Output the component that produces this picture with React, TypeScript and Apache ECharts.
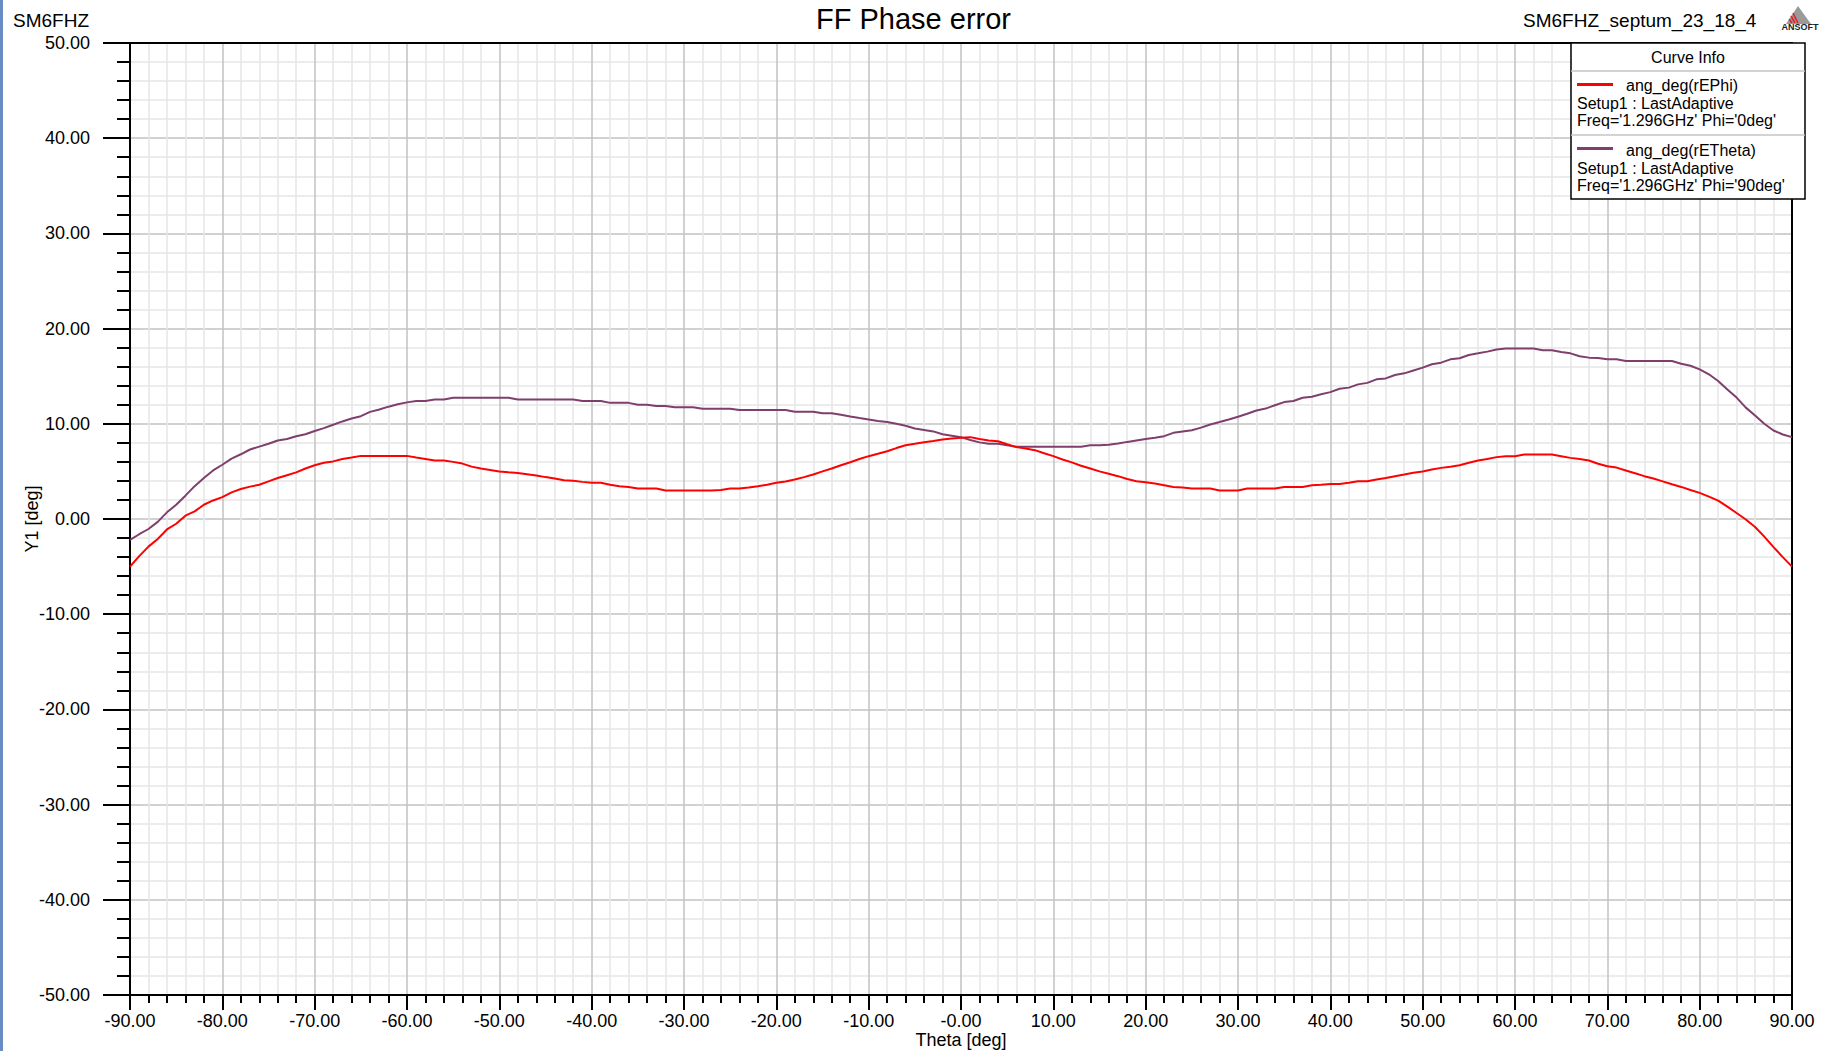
import React, { useEffect, useRef } from "react";
import * as echarts from "echarts";

const THETA = [
  -90, -89, -88, -87, -86, -85, -84, -83, -82, -81,
  -80, -79, -78, -77, -76, -75, -74, -73, -72, -71,
  -70, -69, -68, -67, -66, -65, -64, -63, -62, -61,
  -60, -59, -58, -57, -56, -55, -54, -53, -52, -51,
  -50, -49, -48, -47, -46, -45, -44, -43, -42, -41,
  -40, -39, -38, -37, -36, -35, -34, -33, -32, -31,
  -30, -29, -28, -27, -26, -25, -24, -23, -22, -21,
  -20, -19, -18, -17, -16, -15, -14, -13, -12, -11,
  -10, -9, -8, -7, -6, -5, -4, -3, -2, -1,
  0, 1, 2, 3, 4, 5, 6, 7, 8, 9,
  10, 11, 12, 13, 14, 15, 16, 17, 18, 19,
  20, 21, 22, 23, 24, 25, 26, 27, 28, 29,
  30, 31, 32, 33, 34, 35, 36, 37, 38, 39,
  40, 41, 42, 43, 44, 45, 46, 47, 48, 49,
  50, 51, 52, 53, 54, 55, 56, 57, 58, 59,
  60, 61, 62, 63, 64, 65, 66, 67, 68, 69,
  70, 71, 72, 73, 74, 75, 76, 77, 78, 79,
  80, 81, 82, 83, 84, 85, 86, 87, 88, 89,
  90,
];

// ang_deg(rEPhi), Phi = 0deg
const E_PHI = [
  -5.0, -3.9, -2.9, -2.1, -1.1, -0.5, 0.35, 0.8, 1.5, 1.95,
  2.3, 2.8, 3.15, 3.4, 3.6, 3.95, 4.3, 4.6, 4.9, 5.3,
  5.65, 5.9, 6.05, 6.3, 6.45, 6.63, 6.63, 6.63, 6.63, 6.63,
  6.63, 6.45, 6.3, 6.15, 6.14, 6.0, 5.82, 5.5, 5.3, 5.15,
  5.0, 4.9, 4.84, 4.7, 4.56, 4.4, 4.25, 4.07, 4.03, 3.9,
  3.8, 3.8, 3.6, 3.44, 3.37, 3.2, 3.2, 3.2, 3.0, 3.0,
  3.0, 3.0, 3.0, 3.0, 3.05, 3.2, 3.2, 3.3, 3.44, 3.6,
  3.8, 3.95, 4.14, 4.4, 4.67, 5.0, 5.3, 5.65, 5.96, 6.3,
  6.6, 6.85, 7.12, 7.45, 7.75, 7.9, 8.07, 8.2, 8.35, 8.45,
  8.53, 8.6, 8.4, 8.25, 8.17, 7.85, 7.55, 7.4, 7.23, 6.9,
  6.6, 6.25, 5.95, 5.6, 5.3, 5.0, 4.75, 4.5, 4.2, 3.96,
  3.85, 3.72, 3.55, 3.37, 3.3, 3.2, 3.2, 3.2, 3.0, 3.0,
  3.0, 3.2, 3.2, 3.2, 3.2, 3.37, 3.37, 3.37, 3.54, 3.6,
  3.68, 3.68, 3.8, 3.96, 3.96, 4.15, 4.3, 4.5, 4.67, 4.85,
  5.0, 5.2, 5.37, 5.5, 5.65, 5.9, 6.15, 6.3, 6.5, 6.6,
  6.6, 6.77, 6.77, 6.77, 6.77, 6.6, 6.42, 6.3, 6.14, 5.8,
  5.54, 5.4, 5.1, 4.8, 4.5, 4.25, 3.95, 3.65, 3.37, 3.05,
  2.74, 2.35, 1.93, 1.3, 0.63, -0.05, -0.84, -1.85, -2.95, -4.0,
  -5.0,
];

// ang_deg(rETheta), Phi = 90deg
const E_THETA = [
  -2.2, -1.6, -1.05, -0.3, 0.7, 1.5, 2.45, 3.45, 4.3, 5.1,
  5.7, 6.35, 6.8, 7.3, 7.6, 7.9, 8.25, 8.4, 8.7, 8.9,
  9.25, 9.55, 9.9, 10.25, 10.55, 10.8, 11.25, 11.5, 11.8, 12.05,
  12.25, 12.4, 12.4, 12.56, 12.56, 12.74, 12.74, 12.74, 12.74, 12.74,
  12.74, 12.74, 12.56, 12.56, 12.56, 12.56, 12.56, 12.56, 12.56, 12.4,
  12.4, 12.4, 12.2, 12.2, 12.2, 12.0, 12.0, 11.86, 11.86, 11.75,
  11.75, 11.75, 11.58, 11.58, 11.58, 11.58, 11.44, 11.44, 11.44, 11.44,
  11.44, 11.44, 11.26, 11.26, 11.26, 11.1, 11.1, 10.95, 10.77, 10.6,
  10.46, 10.3, 10.18, 10.0, 9.8, 9.5, 9.35, 9.2, 8.9, 8.75,
  8.6, 8.3, 8.05, 7.9, 7.9, 7.75, 7.6, 7.58, 7.58, 7.58,
  7.58, 7.58, 7.58, 7.58, 7.75, 7.75, 7.8, 7.93, 8.1, 8.25,
  8.4, 8.53, 8.7, 9.05, 9.2, 9.33, 9.6, 9.93, 10.18, 10.45,
  10.74, 11.05, 11.4, 11.6, 11.95, 12.28, 12.4, 12.74, 12.84, 13.1,
  13.33, 13.68, 13.8, 14.14, 14.3, 14.67, 14.77, 15.12, 15.3, 15.6,
  15.9, 16.25, 16.42, 16.77, 16.88, 17.23, 17.4, 17.58, 17.8, 17.9,
  17.9, 17.9, 17.9, 17.72, 17.72, 17.55, 17.4, 17.1, 16.95, 16.9,
  16.77, 16.77, 16.6, 16.6, 16.6, 16.6, 16.6, 16.6, 16.3, 16.1,
  15.72, 15.2, 14.5, 13.6, 12.75, 11.7, 10.88, 10.0, 9.3, 8.88,
  8.6,
];

const SERIES_NAMES = ["ang_deg(rEPhi)", "ang_deg(rETheta)"];
const SERIES_COLORS = ["#ff0000", "#7f3f6c"];
const LEGEND_LINES = [
  ["Setup1 : LastAdaptive", "Freq='1.296GHz' Phi='0deg'"],
  ["Setup1 : LastAdaptive", "Freq='1.296GHz' Phi='90deg'"],
];
const TITLE = "FF Phase error";
const LEFT_LABEL = "SM6FHZ";
const RIGHT_LABEL = "SM6FHZ_septum_23_18_4";
const X_NAME = "Theta [deg]";
const Y_NAME = "Y1 [deg]";

export default function App() {
  const ref = useRef<HTMLDivElement>(null);

  useEffect(() => {
    if (!ref.current) return;
    const chart = echarts.init(ref.current, null, { renderer: "svg" });
    const font = "Liberation Sans, Arial, sans-serif";
    const black = "#000";

    const zip = (vals: number[]) => THETA.map((t, i) => [t, vals[i]]);

    const LX = 1571, LY = 43, LW = 234, LH = 156;

    chart.setOption({
      animation: false,
      backgroundColor: "#fff",
      textStyle: { fontFamily: font },
      title: {
        text: TITLE,
        left: "center",
        top: 4,
        padding: 0,
        textStyle: { fontSize: 29, fontWeight: "normal", color: black, fontFamily: font },
      },
      grid: { left: 130, top: 43, right: 35, bottom: 56, containLabel: false, outerBoundsMode: "none" },
      xAxis: [
        {
          type: "value",
          min: -90,
          max: 90,
          interval: 10,
          position: "bottom",
          axisLine: { show: true, onZero: false, lineStyle: { color: black, width: 2 } },
          axisTick: { show: true, length: 15, lineStyle: { color: black, width: 2 } },
          minorTick: { show: true, splitNumber: 5, length: 8, lineStyle: { color: black, width: 2 } },
          splitLine: { show: true, lineStyle: { color: "#c2c2c2", width: 1.5 } },
          minorSplitLine: { show: true, lineStyle: { color: "#e6e6e6", width: 1.5 } },
          axisLabel: {
            formatter: (v: number) => (v === 0 ? "-0.00" : v.toFixed(2)),
            fontSize: 18,
            color: black,
            margin: 17,
            fontFamily: font,
          },
          name: X_NAME,
          nameLocation: "middle",
          nameGap: 36,
          nameMoveOverlap: false,
          nameTextStyle: { fontSize: 18, color: black, fontFamily: font },
        },
        {
          type: "value",
          min: -90,
          max: 90,
          interval: 10,
          position: "top",
          axisLine: { show: true, onZero: false, lineStyle: { color: black, width: 2 } },
          axisTick: { show: false },
          axisLabel: { show: false },
          splitLine: { show: false },
        },
      ],
      yAxis: [
        {
          type: "value",
          min: -50,
          max: 50,
          interval: 10,
          position: "left",
          axisLine: { show: true, onZero: false, lineStyle: { color: black, width: 2 } },
          axisTick: { show: true, length: 27, lineStyle: { color: black, width: 2 } },
          minorTick: { show: true, splitNumber: 5, length: 13, lineStyle: { color: black, width: 2 } },
          splitLine: { show: true, lineStyle: { color: "#c2c2c2", width: 1.5 } },
          minorSplitLine: { show: true, lineStyle: { color: "#e6e6e6", width: 1.5 } },
          axisLabel: {
            formatter: (v: number) => v.toFixed(2),
            fontSize: 18,
            color: black,
            margin: 40,
            fontFamily: font,
          },
          name: Y_NAME,
          nameLocation: "middle",
          nameGap: 89,
          nameMoveOverlap: false,
          nameTextStyle: { fontSize: 18, color: black, fontFamily: font },
        },
        {
          type: "value",
          min: -50,
          max: 50,
          interval: 10,
          position: "right",
          axisLine: { show: true, onZero: false, lineStyle: { color: black, width: 2 } },
          axisTick: { show: false },
          axisLabel: { show: false },
          splitLine: { show: false },
        },
      ],
      series: [
        {
          name: SERIES_NAMES[0],
          type: "line",
          data: zip(E_PHI),
          showSymbol: false,
          symbol: "none",
          lineStyle: { color: SERIES_COLORS[0], width: 2 },
          itemStyle: { color: SERIES_COLORS[0] },
          z: 3,
        },
        {
          name: SERIES_NAMES[1],
          type: "line",
          data: zip(E_THETA),
          showSymbol: false,
          symbol: "none",
          lineStyle: { color: SERIES_COLORS[1], width: 2 },
          itemStyle: { color: SERIES_COLORS[1] },
          z: 2,
        },
      ],
      graphic: [
        { type: "rect", shape: { x: 0, y: 0, width: 3, height: 1051 }, style: { fill: "#6a8bc4" }, z: 10 },
        {
          type: "text",
          x: 13,
          y: 20,
          style: { text: LEFT_LABEL, font: `19px ${font}`, fill: black, verticalAlign: "middle", align: "left" },
          z: 10,
        },
        {
          type: "text",
          x: 1523,
          y: 20,
          style: { text: RIGHT_LABEL, font: `19px ${font}`, fill: black, verticalAlign: "middle", align: "left" },
          z: 10,
        },
        // ANSOFT logo
        {
          type: "polygon",
          shape: { points: [[1798, 6], [1786, 24], [1811, 24]] },
          style: { fill: "#9a9a9a" },
          z: 10,
        },
        {
          type: "polyline",
          shape: { points: [[1793, 13], [1798, 23]] },
          style: { stroke: "#e0202a", lineWidth: 1.6, fill: "none" },
          z: 11,
        },
        {
          type: "polyline",
          shape: { points: [[1791, 16], [1795, 23]] },
          style: { stroke: "#e0202a", lineWidth: 1.6, fill: "none" },
          z: 11,
        },
        {
          type: "polyline",
          shape: { points: [[1789, 19], [1792, 23]] },
          style: { stroke: "#e0202a", lineWidth: 1.6, fill: "none" },
          z: 11,
        },
        {
          type: "text",
          x: 1800,
          y: 27,
          style: { text: "ANSOFT", font: `bold 9px ${font}`, fill: "#222", align: "center", verticalAlign: "middle" },
          z: 10,
        },
        // Curve Info box
        {
          type: "rect",
          shape: { x: LX, y: LY, width: LW, height: LH },
          style: { fill: "#fff", stroke: black, lineWidth: 1.5 },
          z: 20,
        },
        {
          type: "line",
          shape: { x1: LX, y1: 71, x2: LX + LW, y2: 71 },
          style: { stroke: "#c4c4c4", lineWidth: 1.5 },
          z: 21,
        },
        {
          type: "line",
          shape: { x1: LX, y1: 135, x2: LX + LW, y2: 135 },
          style: { stroke: "#c4c4c4", lineWidth: 1.5 },
          z: 21,
        },
        {
          type: "text",
          x: LX + LW / 2,
          y: 57,
          style: { text: "Curve Info", font: `16px ${font}`, fill: black, align: "center", verticalAlign: "middle" },
          z: 21,
        },
        {
          type: "line",
          shape: { x1: 1577, y1: 84.5, x2: 1613, y2: 84.5 },
          style: { stroke: SERIES_COLORS[0], lineWidth: 3 },
          z: 21,
        },
        {
          type: "text",
          x: 1626,
          y: 85,
          style: { text: SERIES_NAMES[0], font: `16px ${font}`, fill: black, align: "left", verticalAlign: "middle" },
          z: 21,
        },
        {
          type: "text",
          x: 1577,
          y: 103,
          style: { text: LEGEND_LINES[0][0], font: `16px ${font}`, fill: black, align: "left", verticalAlign: "middle" },
          z: 21,
        },
        {
          type: "text",
          x: 1577,
          y: 120,
          style: { text: LEGEND_LINES[0][1], font: `16px ${font}`, fill: black, align: "left", verticalAlign: "middle" },
          z: 21,
        },
        {
          type: "line",
          shape: { x1: 1577, y1: 148.5, x2: 1613, y2: 148.5 },
          style: { stroke: SERIES_COLORS[1], lineWidth: 3 },
          z: 21,
        },
        {
          type: "text",
          x: 1626,
          y: 150,
          style: { text: SERIES_NAMES[1], font: `16px ${font}`, fill: black, align: "left", verticalAlign: "middle" },
          z: 21,
        },
        {
          type: "text",
          x: 1577,
          y: 168,
          style: { text: LEGEND_LINES[1][0], font: `16px ${font}`, fill: black, align: "left", verticalAlign: "middle" },
          z: 21,
        },
        {
          type: "text",
          x: 1577,
          y: 185,
          style: { text: LEGEND_LINES[1][1], font: `16px ${font}`, fill: black, align: "left", verticalAlign: "middle" },
          z: 21,
        },
      ],
    });

    return () => chart.dispose();
  }, []);

  return (
    <div
      ref={ref}
      style={{ position: "fixed", left: 0, top: 0, width: 1827, height: 1051, background: "#fff" }}
    />
  );
}
